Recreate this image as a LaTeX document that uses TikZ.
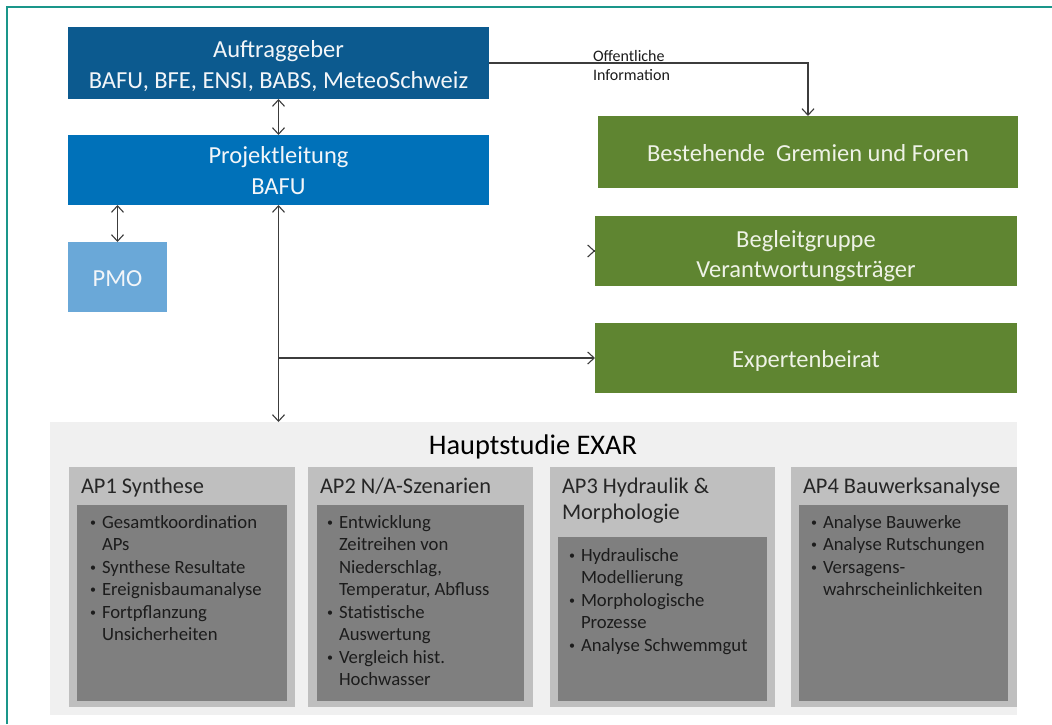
\documentclass[tikz,border=0pt]{standalone}
\usepackage{fontspec}
\setmainfont{Carlito}
\usetikzlibrary{arrows.meta}
\definecolor{frameteal}{HTML}{1A968A}
\definecolor{darkblue}{HTML}{0C5A8F}
\definecolor{midblue}{HTML}{0071B9}
\definecolor{lightblue}{HTML}{6AA8D8}
\definecolor{boxgreen}{HTML}{5F8531}
\definecolor{studybg}{HTML}{F0F0F0}
\definecolor{apbg}{HTML}{BFBFBF}
\definecolor{apinner}{HTML}{7F7F7F}
\definecolor{linegray}{HTML}{3C3C3C}
\definecolor{boxtext}{HTML}{F3F6F9}
\definecolor{greentext}{HTML}{EEF2E6}
\definecolor{darktext}{HTML}{1C1C1C}
\definecolor{titletext}{HTML}{262626}
\newcommand{\bl}{\makebox[12pt][l]{\raisebox{2pt}{\fontsize{12}{12}\selectfont\textbullet}}}
% centred lines, moved down by #1 inside their node
\newcommand{\lowtext}[2]{\raisebox{-#1}[\height][\depth]{\begin{tabular}{@{}c@{}}#2\end{tabular}}}
\begin{document}
\begin{tikzpicture}[x=1pt,y=-1pt,
  every node/.style={inner sep=0pt, outer sep=0pt},
  bluebox/.style={text=boxtext, font=\fontsize{24.5}{31}\selectfont},
  greenbox/.style={fill=boxgreen, text=greentext, font=\fontsize{24.5}{30}\selectfont},
  apbox/.style={fill=apbg, minimum width=#1, minimum height=240pt},
  innerbox/.style={fill=apinner, minimum width=210pt},
  aptitle/.style={anchor=base west, text=titletext, font=\fontsize{22.4}{26.5}\selectfont, align=left},
  listtext/.style={anchor=base west, text=darktext, font=\fontsize{18.7}{22.5}\selectfont},
  conn/.style={draw=linegray, line width=1.2pt},
  tip/.style={-{Straight Barb[length=6.5pt,width=12pt,line width=1.1pt]}},
  dtip/.style={{Straight Barb[length=6.5pt,width=12pt,line width=1.1pt]}-{Straight Barb[length=6.5pt,width=12pt,line width=1.1pt]}}
]
\useasboundingbox (0,0) rectangle (1052,724);
\fill[white] (0,0) rectangle (1052,724);
% frame
\draw[frameteal, line width=1.6pt] (7,724) -- (7,7) -- (1052,7);

% top boxes
\node[bluebox, fill=darkblue, minimum width=421pt, minimum height=72pt] (a) at (278.5,63)
  {\lowtext{3.5pt}{Auftraggeber\\BAFU, BFE, ENSI, BABS, MeteoSchweiz}};
\node[bluebox, fill=midblue, minimum width=421pt, minimum height=70pt] (p) at (278.5,170)
  {\lowtext{2.5pt}{Projektleitung\\BAFU}};
\node[bluebox, fill=lightblue, minimum width=99pt, minimum height=70pt] (pmo) at (117.5,277) {\lowtext{3pt}{PMO}};

% green boxes
\node[greenbox, minimum width=420pt, minimum height=72pt] (g1) at (808,152) {\lowtext{3pt}{Bestehende\ \ Gremien\ und Foren}};
\node[greenbox, minimum width=422pt, minimum height=70pt] (g2) at (806,251) {\lowtext{5.5pt}{Begleitgruppe\\Verantwortungsträger}};
\node[greenbox, minimum width=422pt, minimum height=70pt] (g3) at (806,358) {\lowtext{3pt}{Expertenbeirat}};

% study
\node[fill=studybg, minimum width=967pt, minimum height=293pt] (h) at (533.5,568.5) {};
\node[anchor=base, text=black, font=\fontsize{28.4}{32}\selectfont] (ht) at (533,454) {Hauptstudie EXAR};

\node[apbox=226pt] (ap1) at (182,587) {};
\node[apbox=225pt] (ap2) at (420.5,587) {};
\node[apbox=225pt] (ap3) at (662.5,587) {};
\node[apbox=226pt] (ap4) at (904,587) {};

\node[innerbox, minimum height=196pt] (i1) at (182,603) {};
\node[innerbox, minimum width=207pt, minimum height=196pt] (i2) at (420.5,603) {};
\node[innerbox, minimum width=209pt, minimum height=164pt] (i3) at (662.5,619) {};
\node[innerbox, minimum width=209pt, minimum height=196pt] (i4) at (903.5,603) {};

\node[aptitle] (t1) at (81,493) {AP1 Synthese};
\node[aptitle] (t2) at (320,493) {AP2 N/A-Szenarien};
\node[aptitle] (t3) at (562,493) {\begin{tabular}[t]{@{}l@{}}AP3 Hydraulik \&\\Morphologie\end{tabular}};
\node[aptitle] (t4) at (803,493) {AP4 Bauwerksanalyse};

\node[listtext] (l1) at (90,528) {\begin{tabular}[t]{@{}l@{}l@{}}
\bl&Gesamtkoordination\\&APs\\\bl&Synthese Resultate\\\bl&Ereignisbaumanalyse\\\bl&Fortpflanzung\\&Unsicherheiten
\end{tabular}};
\node[listtext] (l2) at (327,528) {\begin{tabular}[t]{@{}l@{}l@{}}
\bl&Entwicklung\\&Zeitreihen von\\&Niederschlag,\\&Temperatur, Abfluss\\\bl&Statistische\\&Auswertung\\\bl&Vergleich hist.\\&Hochwasser
\end{tabular}};
\node[listtext] (l3) at (569,561) {\begin{tabular}[t]{@{}l@{}l@{}}
\bl&Hydraulische\\&Modellierung\\\bl&Morphologische\\&Prozesse\\\bl&Analyse Schwemmgut
\end{tabular}};
\node[listtext] (l4) at (811,528) {\begin{tabular}[t]{@{}l@{}l@{}}
\bl&Analyse Bauwerke\\\bl&Analyse Rutschungen\\\bl&Versagens-\\&wahrscheinlichkeiten
\end{tabular}};

% connectors
\draw[conn, dtip] (a.south) -- (p.north);
\draw[conn, dtip] (pmo.north |- p.south) -- (pmo.north);
\draw[conn, dtip] (p.south) -- (p.south |- h.north);
\coordinate (j) at (p.south |- g3.west);
\draw[conn, tip] (j) -- (g3.west);
\draw[conn, tip] ([xshift=-1pt]g2.west) -- (g2.west);
\draw[conn, tip] (a.east) -| (g1.north);
\node[anchor=base west, text=darktext, font=\fontsize{16}{19}\selectfont] (info) at (593,61)
  {\begin{tabular}[t]{@{}l@{}}Offentliche\\Information\end{tabular}};
\end{tikzpicture}
\end{document}
